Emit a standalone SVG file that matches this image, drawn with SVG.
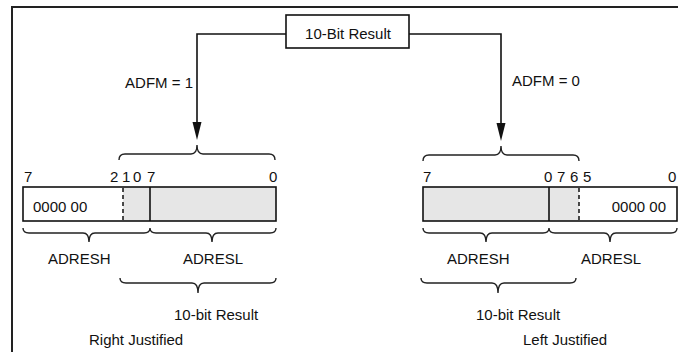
<svg xmlns="http://www.w3.org/2000/svg" width="678" height="352" viewBox="0 0 678 352">
<style>
text{font-family:"Liberation Sans",Arial,sans-serif;font-size:15px;fill:#111}
.ln{fill:none;stroke:#111;stroke-width:1.6}
.br{fill:none;stroke:#222;stroke-width:1.4}
.gray{fill:#e6e6e6;stroke:none}
.dash{stroke:#111;stroke-width:1.5;stroke-dasharray:4,3}
</style>
<rect x="0" y="0" width="678" height="352" fill="#fff"/>
<path d="M12,353 V7 H679" fill="none" stroke="#222" stroke-width="2"/>
<g id="result">
<rect x="286" y="15" width="123" height="33" fill="#fff" stroke="#111" stroke-width="1.6"/>
<text x="348" y="39" text-anchor="middle">10-Bit Result</text>
</g>
<g id="connectors">
<path class="ln" d="M286,34 H197 V124"/>
<path d="M192.5,122 L201.5,122 L197,140 Z" fill="#111"/>
<path class="ln" d="M409,34 H501 V124"/>
<path d="M496.5,123 L505.5,123 L501,141 Z" fill="#111"/>
<text x="193" y="88" text-anchor="end">ADFM = 1</text>
<text x="512" y="86">ADFM = 0</text>
</g>
<g id="right-justified">
<path class="br" d="M119,160 Q119,154 125,154 H191 Q197,154 197,145 Q197,154 203,154 H269 Q275,154 275,160"/>
<text x="24" y="182">7</text>
<text x="110" y="182">2</text>
<text x="122" y="182">1</text>
<text x="133" y="182">0</text>
<text x="147" y="182">7</text>
<text x="269" y="182">0</text>
<rect class="gray" x="123" y="187" width="153" height="34"/>
<rect x="23" y="187" width="253" height="34" fill="none" stroke="#111" stroke-width="1.6"/>
<line class="dash" x1="123" y1="188" x2="123" y2="220"/>
<line x1="150" y1="187" x2="150" y2="221" stroke="#111" stroke-width="1.6"/>
<text x="33" y="212">0000 00</text>
<path class="br" d="M23,228 Q23,233 29,233 H83 Q89,233 89,242 Q89,233 95,233 H144 Q150,233 150,228 Q150,233 156,233 H206 Q212,233 212,242 Q212,233 218,233 H270 Q276,233 276,228"/>
<text x="48" y="264">ADRESH</text>
<text x="183" y="264">ADRESL</text>
<path class="br" d="M120,278 Q120,283 126,283 H192 Q198,283 198,293 Q198,283 204,283 H270 Q276,283 276,278"/>
<text x="174" y="320">10-bit Result</text>
<text x="89" y="345">Right Justified</text>
</g>
<g id="left-justified">
<path class="br" d="M423,161 Q423,155 429,155 H495 Q501,155 501,146 Q501,155 507,155 H573 Q579,155 579,161"/>
<text x="423" y="182">7</text>
<text x="544" y="182">0</text>
<text x="557" y="182">7</text>
<text x="570" y="182">6</text>
<text x="583" y="182">5</text>
<text x="668" y="182">0</text>
<rect class="gray" x="423" y="187" width="156" height="34"/>
<rect x="423" y="187" width="254" height="34" fill="none" stroke="#111" stroke-width="1.6"/>
<line x1="549" y1="187" x2="549" y2="221" stroke="#111" stroke-width="1.6"/>
<line class="dash" x1="579" y1="188" x2="579" y2="220"/>
<text x="666" y="212" text-anchor="end">0000 00</text>
<path class="br" d="M423,228 Q423,233 429,233 H480 Q486,233 486,242 Q486,233 492,233 H543 Q549,233 549,228 Q549,233 555,233 H604 Q610,233 610,242 Q610,233 616,233 H671 Q677,233 677,228"/>
<text x="447" y="264">ADRESH</text>
<text x="581" y="264">ADRESL</text>
<path class="br" d="M421,278 Q421,283 427,283 H492 Q498,283 498,293 Q498,283 504,283 H570 Q576,283 576,278"/>
<text x="476" y="320">10-bit Result</text>
<text x="523" y="345">Left Justified</text>
</g>
</svg>
